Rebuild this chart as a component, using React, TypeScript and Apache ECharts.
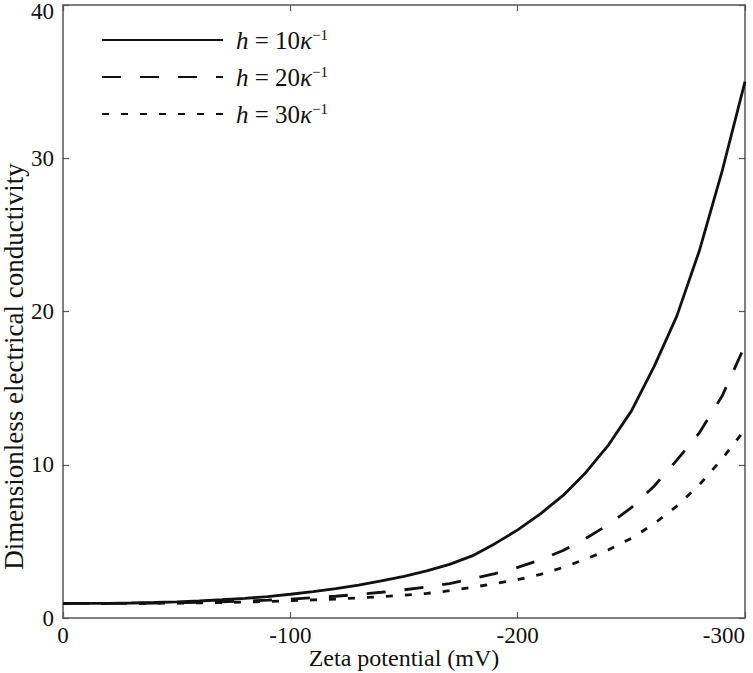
import React, { useEffect, useRef } from "react";
import * as echarts from "echarts";

const zeta = [0, -10, -20, -30, -40, -50, -60, -70, -80, -90, -100, -110, -120, -130, -140, -150, -160, -170, -180, -190, -200, -210, -220, -230, -240, -250, -260, -270, -280, -290, -300];
const h10 = [0.95, 0.95, 0.96, 0.98, 1.01, 1.05, 1.11, 1.19, 1.28, 1.4, 1.55, 1.72, 1.92, 2.15, 2.42, 2.72, 3.07, 3.5, 4.05, 4.85, 5.75, 6.8, 8.0, 9.5, 11.3, 13.5, 16.4, 19.7, 24.0, 29.2, 35.0];
const h20 = [0.95, 0.95, 0.95, 0.96, 0.97, 0.99, 1.02, 1.06, 1.1, 1.16, 1.23, 1.32, 1.42, 1.54, 1.68, 1.84, 2.02, 2.25, 2.55, 2.9, 3.3, 3.8, 4.4, 5.2, 6.1, 7.2, 8.6, 10.3, 12.1, 14.5, 17.8];
const h30 = [0.95, 0.95, 0.95, 0.95, 0.96, 0.97, 0.99, 1.01, 1.04, 1.08, 1.13, 1.18, 1.24, 1.31, 1.39, 1.49, 1.6, 1.78, 2.0, 2.25, 2.5, 2.85, 3.3, 3.85, 4.45, 5.2, 6.15, 7.3, 8.7, 10.4, 12.3];
const seriesNames = ["h10", "h20", "h30"];
const legendLabels: Record<string, string> = {
  h10: "{i|h} = 10{i|κ}{s|−1}",
  h20: "{i|h} = 20{i|κ}{s|−1}",
  h30: "{i|h} = 30{i|κ}{s|−1}",
};
const xTitle = "Zeta potential (mV)";
const yTitle = "Dimensionless electrical conductivity";

const FONT = '"Liberation Serif", "Times New Roman", serif';
const AXIS_COLOR = "#555";

export default function App() {
  const ref = useRef<HTMLDivElement>(null);
  useEffect(() => {
    if (!ref.current) return;
    const chart = echarts.init(ref.current, undefined, { renderer: "svg" });
    const mk = (vals: number[]) => zeta.map((z, i) => [z, vals[i]]);
    const lineBase = { type: "line", symbol: "none", showSymbol: false, smooth: false, clip: true };
    const tickStyle = { show: true, inside: true, length: 6, lineStyle: { color: AXIS_COLOR, width: 1.2 } };
    chart.setOption({
      animation: false,
      backgroundColor: "#fff",
      textStyle: { fontFamily: FONT },
      grid: { left: 63, right: 8, top: 5, bottom: 55, containLabel: false, outerBoundsMode: "none" },
      legend: {
        orient: "vertical",
        left: 101,
        top: 27,
        padding: 0,
        itemWidth: 121,
        itemHeight: 14,
        itemGap: 11,
        data: seriesNames,
        itemStyle: { opacity: 0 },
        formatter: (n: string) => legendLabels[n],
        textStyle: {
          fontFamily: FONT,
          fontSize: 25,
          lineHeight: 26,
          color: "#111",
          padding: [0, 0, 0, 8],
          rich: {
            i: { fontFamily: FONT, fontSize: 25, fontStyle: "italic", color: "#111" },
            s: { fontFamily: FONT, fontSize: 15, color: "#111", verticalAlign: "top", padding: [0, 0, 12, 0] },
          },
        },
      },
      xAxis: [
        {
          type: "value",
          min: -300,
          max: 0,
          interval: 100,
          inverse: true,
          name: xTitle,
          nameLocation: "middle",
          nameGap: 28,
          nameMoveOverlap: false,
          nameTextStyle: { fontFamily: FONT, fontSize: 24, lineHeight: 24, color: "#111" },
          axisLine: { show: true, onZero: false, lineStyle: { color: AXIS_COLOR, width: 1.5 } },
          axisTick: tickStyle,
          axisLabel: { fontFamily: FONT, fontSize: 23, color: "#111", margin: 6, alignMinLabel: "right" },
          splitLine: { show: false },
        },
        {
          type: "value",
          min: -300,
          max: 0,
          interval: 100,
          inverse: true,
          position: "top",
          axisLine: { show: true, onZero: false, lineStyle: { color: AXIS_COLOR, width: 1.5 } },
          axisTick: tickStyle,
          axisLabel: { show: false },
          splitLine: { show: false },
        },
      ],
      yAxis: [
        {
          type: "value",
          min: 0,
          max: 40,
          interval: 10,
          name: yTitle,
          nameLocation: "middle",
          nameGap: 36,
          nameMoveOverlap: false,
          nameTextStyle: { fontFamily: FONT, fontSize: 27, lineHeight: 26, color: "#111", padding: [0, 110, 0, 0] },
          axisLine: { show: true, onZero: false, lineStyle: { color: AXIS_COLOR, width: 1.5 } },
          axisTick: tickStyle,
          axisLabel: {
            fontFamily: FONT,
            fontSize: 23,
            color: "#111",
            margin: 9,
            formatter: (v: number) => (v === 40 ? "{top|" + v + "}" : String(v)),
            rich: { top: { fontFamily: FONT, fontSize: 23, color: "#111", padding: [13, 0, 0, 0] } },
          },
          splitLine: { show: false },
        },
        {
          type: "value",
          min: 0,
          max: 40,
          interval: 10,
          position: "right",
          axisLine: { show: true, onZero: false, lineStyle: { color: AXIS_COLOR, width: 1.5 } },
          axisTick: tickStyle,
          axisLabel: { show: false },
          splitLine: { show: false },
        },
      ],
      series: [
        { ...lineBase, name: "h10", data: mk(h10), lineStyle: { color: "#111", width: 2.8, type: "solid" }, itemStyle: { color: "#111" } },
        { ...lineBase, name: "h20", data: mk(h20), lineStyle: { color: "#111", width: 2.8, type: [19, 19] }, itemStyle: { color: "#111" } },
        { ...lineBase, name: "h30", data: mk(h30), lineStyle: { color: "#111", width: 2.8, type: [7, 12] }, itemStyle: { color: "#111" } },
      ],
    });
    return () => chart.dispose();
  }, []);
  return <div ref={ref} style={{ width: 753, height: 673, position: "absolute", left: 0, top: 0 }} />;
}
